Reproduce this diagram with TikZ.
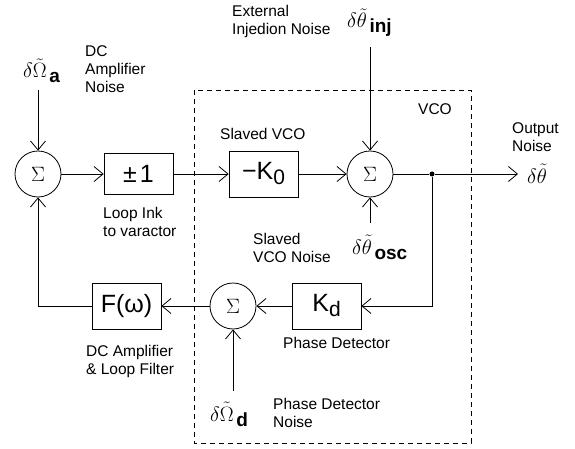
\documentclass[tikz,border=0pt]{standalone}
\usepackage{fontspec}
\setmainfont{Liberation Sans}
\usetikzlibrary{arrows.meta}
\begin{document}
\begin{tikzpicture}[x=1pt,y=-1pt,
 lbl/.style={font=\fontsize{15.5}{18}\selectfont, align=left, inner sep=0pt, anchor=north west},
 sym/.style={inner sep=0pt, anchor=base west, font=\fontsize{20}{20}\selectfont},
 blk/.style={draw, line width=0.8pt, minimum width=69pt, minimum height=46pt, inner sep=0pt, font=\fontsize{25}{25}\selectfont},
 sumc/.style={draw, circle, line width=0.8pt, minimum size=46pt, inner sep=0pt, font=\fontsize{22}{22}\selectfont},
 arr/.style={line width=0.8pt, -{Straight Barb[length=9pt,width=15pt]}},
 ln/.style={line width=0.8pt},
 dot/.style={circle, fill, inner sep=0pt, minimum size=5pt},
 vcobox/.style={line width=0.8pt, dash pattern=on 5pt off 4pt}]
\newcommand{\subbig}[1]{\kern2.5pt\raisebox{-5pt}{\fontsize{19}{19}\selectfont\bfseries #1}}
\useasboundingbox (0,0) rectangle (575,449);
% dashed VCO boundary
\draw[vcobox] (194,90) rectangle (471,443);
% blocks
\node[sumc] (s1) at (38,174) {$\Sigma$};
\node[blk, minimum height=41pt] (b1) at (138.5,174) {±\kern3pt 1};
\node[blk] (k0) at (263.5,174) {−K\raisebox{-5pt}{\fontsize{21}{21}\selectfont 0}};
\node[sumc] (s2) at (370,174) {$\Sigma$};
\node[dot] (jn) at (432,174) {};
\node[blk] (kd) at (326.5,306) {K\raisebox{-5pt}{\fontsize{21}{21}\selectfont d}};
\node[sumc] (s3) at (233,306) {$\Sigma$};
\node[blk] (f) at (126.5,306) {F(ω)};
% labels
\node[lbl] (lna) at (85,45) {DC\\Amplifier\\Noise};
\node[lbl] (lext) at (232,5) {External\\Injedion Noise};
\node[lbl] (lsl) at (220,128) {Slaved VCO};
\node[lbl] (lvco) at (418,103) {VCO};
\node[lbl] (lout) at (512,122) {Output\\Noise};
\node[lbl] (lloop) at (103,207) {Loop Ink\\to varactor};
\node[lbl] (losc) at (253,233) {Slaved\\VCO Noise};
\node[lbl] (lpd) at (283,337) {Phase Detector};
\node[lbl] (lf) at (86,345) {DC Amplifier\\\& Loop Filter};
\node[lbl] (lpdn) at (273,398) {Phase Detector\\Noise};
% noise symbols
\node[sym] (na) at (23,78) {$\delta\tilde\Omega$\subbig{a}};
\node[sym] (ninj) at (347,28) {$\delta\tilde\theta$\subbig{inj}};
\node[sym] (nosc) at (352,254) {$\delta\tilde\theta$\subbig{osc}};
\node[sym] (nd) at (210,421) {$\delta\tilde\Omega$\subbig{d}};
\node[sym] (nout) at (527,183) {$\delta\tilde\theta$};
% connectors
\draw[arr, shorten <=7pt] (s1 |- na.south) -- (s1);
\draw[arr, shorten <=10pt] (s2 |- ninj.south) -- (s2);
\draw[arr, shorten <=12pt] (s2 |- nosc.north) -- (s2);
\draw[arr, shorten <=11pt] (s3 |- nd.north) -- (s3);
\draw[arr] (s1) -- (b1);
\draw[arr] (b1) -- (k0);
\draw[arr] (k0) -- (s2);
\draw[ln] (s2) -- (jn);
\draw[arr, shorten >=9pt] (jn) -- (jn -| nout.west);
\draw[arr] (jn) |- (kd.east);
\draw[arr] (kd) -- (s3);
\draw[arr] (s3) -- (f);
\draw[arr] (f.west) -| (s1.south);
\end{tikzpicture}
\end{document}
